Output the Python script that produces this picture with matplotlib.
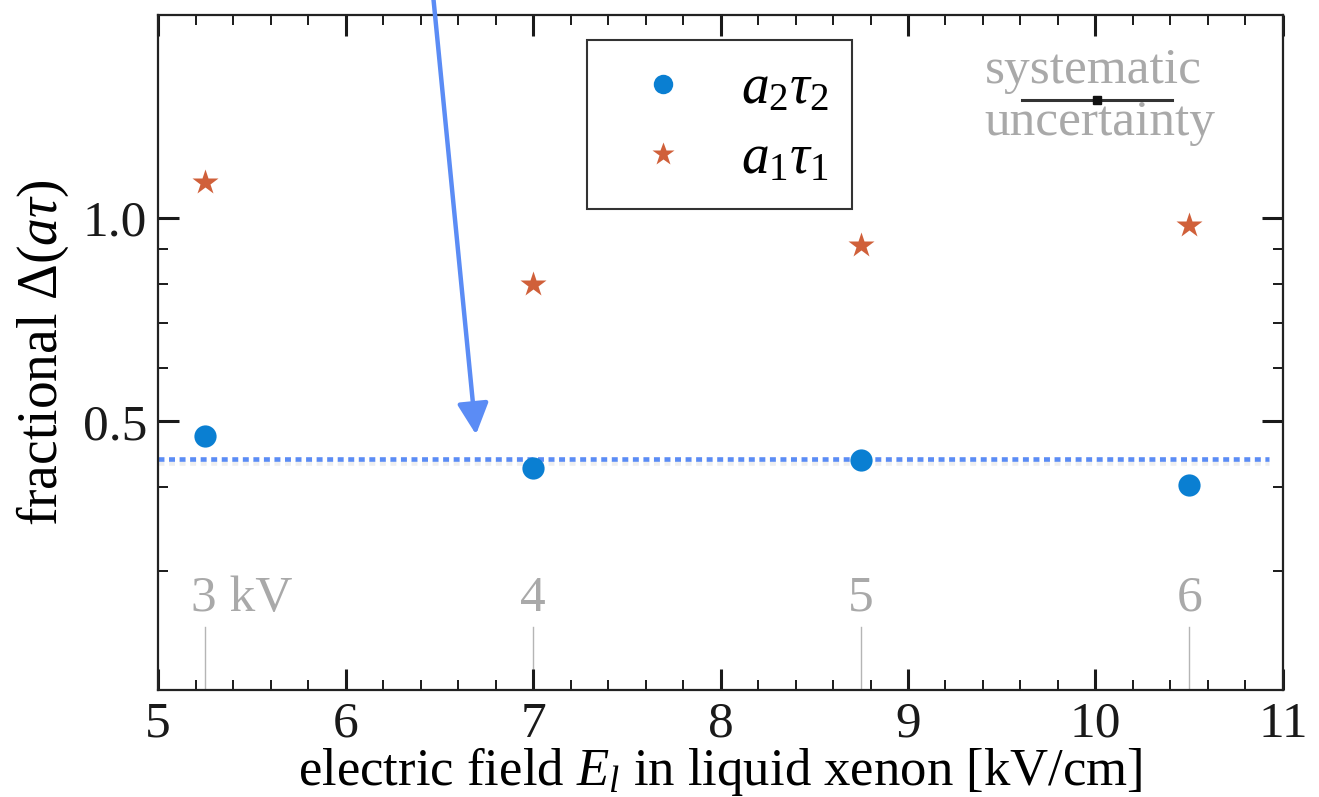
import matplotlib
matplotlib.use("Agg")
import matplotlib.pyplot as plt
from matplotlib.lines import Line2D
from matplotlib import patheffects as pe
from matplotlib.ticker import FixedLocator, NullFormatter, MultipleLocator

plt.rcParams["font.family"] = ["Liberation Serif", "DejaVu Serif"]
plt.rcParams["mathtext.fontset"] = "custom"
plt.rcParams["mathtext.rm"] = "Liberation Serif"
plt.rcParams["mathtext.it"] = "Liberation Serif:italic"

# Data: electric field in liquid xenon (kV/cm) for anode voltages 3-6 kV
field = [5.25, 7.0, 8.75, 10.5]
voltage_labels = ["3 kV", "4", "5", "6"]
a2tau2 = [0.475, 0.427, 0.439, 0.403]
a1tau1 = [1.13, 0.80, 0.913, 0.977]
mean_level = 0.44

blue = "#0a7fd2"
orange = "#d0603a"
guide = "#5b8cf5"
grey_txt = "#a9a9a9"

fig = plt.figure(figsize=(13.19, 7.97), dpi=100)
ax = fig.add_axes([0.1198, 0.1343, 0.9727 - 0.1198, 0.9812 - 0.1343])

ax.set_yscale("log")
ax.set_xlim(5, 11)
ax.set_ylim(0.2, 2.0)

# voltage markers along the bottom
for x, lab in zip(field, voltage_labels):
    ax.plot([x, x], [0.2, 0.248], color="#b5b5b5", lw=1.0, zorder=1)
    ax.annotate(lab, xy=(x, 0.262), xytext=(-10 if lab.endswith("kV") else 0, 0),
                textcoords="offset points", ha="left" if lab.endswith("kV") else "center",
                va="baseline", color=grey_txt, fontsize=37)

# mean level of a2 tau2
ax.axhline(mean_level, xmin=0, xmax=0.988, color=guide, lw=3.3,
           dashes=(1.3, 1.0), zorder=2,
           path_effects=[pe.SimpleLineShadow(offset=(0, -3), shadow_color="grey", alpha=0.12),
                         pe.Normal()])

ax.plot(field, a2tau2, "o", color=blue, ms=16, mec="none", zorder=3)
ax.plot(field, a1tau1, "*", color=orange, ms=19, mec="none", zorder=3)

# arrow pointing at the mean level
ax.annotate("", xy=(6.696, 0.478), xycoords="data",
            xytext=(432 / 1319, 1.02), textcoords="figure fraction",
            arrowprops=dict(arrowstyle="-|>,head_length=1.9,head_width=0.95",
                            mutation_scale=10, color=guide, lw=3.2,
                            shrinkA=0, shrinkB=0),
            annotation_clip=False)

# systematic uncertainty indicator
ax.text(0.735, 0.899, "systematic", transform=ax.transAxes, color=grey_txt,
        fontsize=37, ha="left", va="baseline")
ax.text(0.735, 0.822, "uncertainty", transform=ax.transAxes, color=grey_txt,
        fontsize=37, ha="left", va="baseline")
ax.plot([0.768, 0.901], [0.874, 0.874], transform=ax.transAxes, color="#333333", lw=2.2)
ax.plot([0.8347], [0.874], "s", transform=ax.transAxes, color="#111111", ms=6)

# axes styling
ax.xaxis.set_major_locator(MultipleLocator(1))
ax.xaxis.set_minor_locator(MultipleLocator(0.2))
ax.yaxis.set_major_locator(FixedLocator([0.5, 1.0]))
ax.yaxis.set_minor_locator(FixedLocator([0.2, 0.3, 0.4, 0.6, 0.7, 0.8, 0.9, 2.0]))
ax.yaxis.set_minor_formatter(NullFormatter())
ax.set_yticklabels(["0.5", "1.0"])
ax.tick_params(which="both", direction="in", top=True, right=True, colors="#1a1a1a",
               labelsize=37)
ax.tick_params(which="major", length=15, width=2.2, pad=8)
ax.tick_params(which="minor", length=7, width=1.4)
for s in ax.spines.values():
    s.set_linewidth(1.6)
    s.set_color("#222222")

ax.set_xlabel(r"electric field $E_l$ in liquid xenon [kV/cm]", fontsize=38, labelpad=-2)
ax.set_ylabel(r"fractional $\Delta(a\tau)$", fontsize=40, labelpad=8)

handles = [Line2D([], [], ls="none", marker="o", color=blue, ms=14, mec="none"),
           Line2D([], [], ls="none", marker="*", color=orange, ms=17, mec="none")]
leg = ax.legend(handles, [r"$a_2\tau_2$", r"$a_1\tau_1$"], loc="upper left",
                bbox_to_anchor=(0.381, 0.963), fontsize=40, frameon=True,
                fancybox=False, framealpha=1, edgecolor="#333333",
                borderpad=0.42, handlelength=1.9, handletextpad=0.45,
                labelspacing=0.33, borderaxespad=0)
leg.get_frame().set_linewidth(1.5)

fig.savefig("out.png", dpi=100)
